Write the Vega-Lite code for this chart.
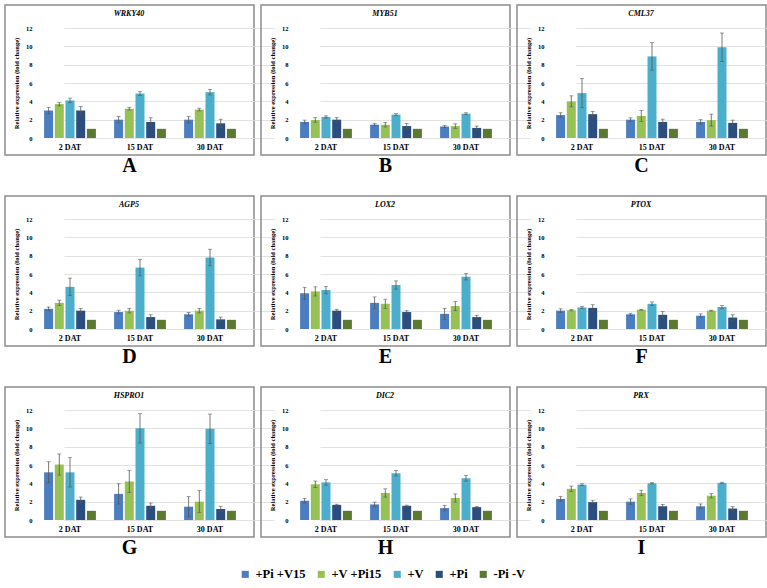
{
"$schema": "https://vega.github.io/schema/vega-lite/v6.json",
"padding": {"left": 4, "top": 4, "right": 2, "bottom": 2},
"background": "white",
"data": {"values": [
{"p":"A","g":"WRKY40","d":"2 DAT","t":"+Pi +V15","v":3.0,"lo":2.65,"hi":3.35},
{"p":"A","g":"WRKY40","d":"2 DAT","t":"+V +Pi15","v":3.7,"lo":3.5,"hi":3.9},
{"p":"A","g":"WRKY40","d":"2 DAT","t":"+V","v":4.1,"lo":3.85,"hi":4.35},
{"p":"A","g":"WRKY40","d":"2 DAT","t":"+Pi","v":3.0,"lo":2.55,"hi":3.45},
{"p":"A","g":"WRKY40","d":"2 DAT","t":"-Pi -V","v":1.0},
{"p":"A","g":"WRKY40","d":"15 DAT","t":"+Pi +V15","v":2.0,"lo":1.65,"hi":2.35},
{"p":"A","g":"WRKY40","d":"15 DAT","t":"+V +Pi15","v":3.2,"lo":3.05,"hi":3.35},
{"p":"A","g":"WRKY40","d":"15 DAT","t":"+V","v":4.85,"lo":4.65,"hi":5.05},
{"p":"A","g":"WRKY40","d":"15 DAT","t":"+Pi","v":1.75,"lo":1.3,"hi":2.2},
{"p":"A","g":"WRKY40","d":"15 DAT","t":"-Pi -V","v":1.0},
{"p":"A","g":"WRKY40","d":"30 DAT","t":"+Pi +V15","v":2.0,"lo":1.65,"hi":2.35},
{"p":"A","g":"WRKY40","d":"30 DAT","t":"+V +Pi15","v":3.1,"lo":2.95,"hi":3.25},
{"p":"A","g":"WRKY40","d":"30 DAT","t":"+V","v":5.0,"lo":4.7,"hi":5.3},
{"p":"A","g":"WRKY40","d":"30 DAT","t":"+Pi","v":1.6,"lo":1.15,"hi":2.05},
{"p":"A","g":"WRKY40","d":"30 DAT","t":"-Pi -V","v":1.0},
{"p":"B","g":"MYB51","d":"2 DAT","t":"+Pi +V15","v":1.75,"lo":1.55,"hi":1.95},
{"p":"B","g":"MYB51","d":"2 DAT","t":"+V +Pi15","v":1.97,"lo":1.72,"hi":2.22},
{"p":"B","g":"MYB51","d":"2 DAT","t":"+V","v":2.3,"lo":2.18,"hi":2.42},
{"p":"B","g":"MYB51","d":"2 DAT","t":"+Pi","v":2.0,"lo":1.75,"hi":2.25},
{"p":"B","g":"MYB51","d":"2 DAT","t":"-Pi -V","v":1.0},
{"p":"B","g":"MYB51","d":"15 DAT","t":"+Pi +V15","v":1.45,"lo":1.33,"hi":1.57},
{"p":"B","g":"MYB51","d":"15 DAT","t":"+V +Pi15","v":1.45,"lo":1.2,"hi":1.7},
{"p":"B","g":"MYB51","d":"15 DAT","t":"+V","v":2.55,"lo":2.43,"hi":2.67},
{"p":"B","g":"MYB51","d":"15 DAT","t":"+Pi","v":1.3,"lo":1.0,"hi":1.6},
{"p":"B","g":"MYB51","d":"15 DAT","t":"-Pi -V","v":1.0},
{"p":"B","g":"MYB51","d":"30 DAT","t":"+Pi +V15","v":1.25,"lo":1.13,"hi":1.37},
{"p":"B","g":"MYB51","d":"30 DAT","t":"+V +Pi15","v":1.3,"lo":1.05,"hi":1.55},
{"p":"B","g":"MYB51","d":"30 DAT","t":"+V","v":2.65,"lo":2.55,"hi":2.75},
{"p":"B","g":"MYB51","d":"30 DAT","t":"+Pi","v":1.1,"lo":0.9,"hi":1.3},
{"p":"B","g":"MYB51","d":"30 DAT","t":"-Pi -V","v":1.0},
{"p":"C","g":"CML37","d":"2 DAT","t":"+Pi +V15","v":2.5,"lo":2.25,"hi":2.75},
{"p":"C","g":"CML37","d":"2 DAT","t":"+V +Pi15","v":4.0,"lo":3.4,"hi":4.6},
{"p":"C","g":"CML37","d":"2 DAT","t":"+V","v":4.9,"lo":3.3,"hi":6.5},
{"p":"C","g":"CML37","d":"2 DAT","t":"+Pi","v":2.6,"lo":2.3,"hi":2.9},
{"p":"C","g":"CML37","d":"2 DAT","t":"-Pi -V","v":1.0},
{"p":"C","g":"CML37","d":"15 DAT","t":"+Pi +V15","v":2.0,"lo":1.8,"hi":2.2},
{"p":"C","g":"CML37","d":"15 DAT","t":"+V +Pi15","v":2.4,"lo":1.8,"hi":3.0},
{"p":"C","g":"CML37","d":"15 DAT","t":"+V","v":8.9,"lo":7.4,"hi":10.4},
{"p":"C","g":"CML37","d":"15 DAT","t":"+Pi","v":1.75,"lo":1.45,"hi":2.05},
{"p":"C","g":"CML37","d":"15 DAT","t":"-Pi -V","v":1.0},
{"p":"C","g":"CML37","d":"30 DAT","t":"+Pi +V15","v":1.75,"lo":1.5,"hi":2.0},
{"p":"C","g":"CML37","d":"30 DAT","t":"+V +Pi15","v":1.95,"lo":1.3,"hi":2.6},
{"p":"C","g":"CML37","d":"30 DAT","t":"+V","v":9.9,"lo":8.35,"hi":11.45},
{"p":"C","g":"CML37","d":"30 DAT","t":"+Pi","v":1.65,"lo":1.35,"hi":1.95},
{"p":"C","g":"CML37","d":"30 DAT","t":"-Pi -V","v":1.0},
{"p":"D","g":"AGP5","d":"2 DAT","t":"+Pi +V15","v":2.2,"lo":2.0,"hi":2.4},
{"p":"D","g":"AGP5","d":"2 DAT","t":"+V +Pi15","v":2.85,"lo":2.55,"hi":3.15},
{"p":"D","g":"AGP5","d":"2 DAT","t":"+V","v":4.6,"lo":3.65,"hi":5.55},
{"p":"D","g":"AGP5","d":"2 DAT","t":"+Pi","v":2.0,"lo":1.75,"hi":2.25},
{"p":"D","g":"AGP5","d":"2 DAT","t":"-Pi -V","v":1.0},
{"p":"D","g":"AGP5","d":"15 DAT","t":"+Pi +V15","v":1.85,"lo":1.65,"hi":2.05},
{"p":"D","g":"AGP5","d":"15 DAT","t":"+V +Pi15","v":2.0,"lo":1.75,"hi":2.25},
{"p":"D","g":"AGP5","d":"15 DAT","t":"+V","v":6.7,"lo":5.8,"hi":7.6},
{"p":"D","g":"AGP5","d":"15 DAT","t":"+Pi","v":1.3,"lo":1.05,"hi":1.55},
{"p":"D","g":"AGP5","d":"15 DAT","t":"-Pi -V","v":1.0},
{"p":"D","g":"AGP5","d":"30 DAT","t":"+Pi +V15","v":1.6,"lo":1.4,"hi":1.8},
{"p":"D","g":"AGP5","d":"30 DAT","t":"+V +Pi15","v":2.0,"lo":1.75,"hi":2.25},
{"p":"D","g":"AGP5","d":"30 DAT","t":"+V","v":7.8,"lo":6.9,"hi":8.7},
{"p":"D","g":"AGP5","d":"30 DAT","t":"+Pi","v":1.05,"lo":0.8,"hi":1.3},
{"p":"D","g":"AGP5","d":"30 DAT","t":"-Pi -V","v":1.0},
{"p":"E","g":"LOX2","d":"2 DAT","t":"+Pi +V15","v":3.9,"lo":3.25,"hi":4.55},
{"p":"E","g":"LOX2","d":"2 DAT","t":"+V +Pi15","v":4.1,"lo":3.6,"hi":4.6},
{"p":"E","g":"LOX2","d":"2 DAT","t":"+V","v":4.25,"lo":3.85,"hi":4.65},
{"p":"E","g":"LOX2","d":"2 DAT","t":"+Pi","v":2.0,"lo":1.85,"hi":2.15},
{"p":"E","g":"LOX2","d":"2 DAT","t":"-Pi -V","v":1.0},
{"p":"E","g":"LOX2","d":"15 DAT","t":"+Pi +V15","v":2.85,"lo":2.2,"hi":3.5},
{"p":"E","g":"LOX2","d":"15 DAT","t":"+V +Pi15","v":2.75,"lo":2.25,"hi":3.25},
{"p":"E","g":"LOX2","d":"15 DAT","t":"+V","v":4.8,"lo":4.35,"hi":5.25},
{"p":"E","g":"LOX2","d":"15 DAT","t":"+Pi","v":1.85,"lo":1.7,"hi":2.0},
{"p":"E","g":"LOX2","d":"15 DAT","t":"-Pi -V","v":1.0},
{"p":"E","g":"LOX2","d":"30 DAT","t":"+Pi +V15","v":1.65,"lo":1.05,"hi":2.25},
{"p":"E","g":"LOX2","d":"30 DAT","t":"+V +Pi15","v":2.5,"lo":2.0,"hi":3.0},
{"p":"E","g":"LOX2","d":"30 DAT","t":"+V","v":5.7,"lo":5.35,"hi":6.05},
{"p":"E","g":"LOX2","d":"30 DAT","t":"+Pi","v":1.3,"lo":1.1,"hi":1.5},
{"p":"E","g":"LOX2","d":"30 DAT","t":"-Pi -V","v":1.0},
{"p":"F","g":"PTOX","d":"2 DAT","t":"+Pi +V15","v":2.0,"lo":1.8,"hi":2.2},
{"p":"F","g":"PTOX","d":"2 DAT","t":"+V +Pi15","v":2.05,"lo":1.98,"hi":2.12},
{"p":"F","g":"PTOX","d":"2 DAT","t":"+V","v":2.35,"lo":2.25,"hi":2.45},
{"p":"F","g":"PTOX","d":"2 DAT","t":"+Pi","v":2.3,"lo":1.95,"hi":2.65},
{"p":"F","g":"PTOX","d":"2 DAT","t":"-Pi -V","v":1.0},
{"p":"F","g":"PTOX","d":"15 DAT","t":"+Pi +V15","v":1.6,"lo":1.48,"hi":1.72},
{"p":"F","g":"PTOX","d":"15 DAT","t":"+V +Pi15","v":2.1,"lo":2.05,"hi":2.15},
{"p":"F","g":"PTOX","d":"15 DAT","t":"+V","v":2.75,"lo":2.55,"hi":2.95},
{"p":"F","g":"PTOX","d":"15 DAT","t":"+Pi","v":1.55,"lo":1.2,"hi":1.9},
{"p":"F","g":"PTOX","d":"15 DAT","t":"-Pi -V","v":1.0},
{"p":"F","g":"PTOX","d":"30 DAT","t":"+Pi +V15","v":1.45,"lo":1.25,"hi":1.65},
{"p":"F","g":"PTOX","d":"30 DAT","t":"+V +Pi15","v":2.0,"lo":1.95,"hi":2.05},
{"p":"F","g":"PTOX","d":"30 DAT","t":"+V","v":2.4,"lo":2.25,"hi":2.55},
{"p":"F","g":"PTOX","d":"30 DAT","t":"+Pi","v":1.25,"lo":0.95,"hi":1.55},
{"p":"F","g":"PTOX","d":"30 DAT","t":"-Pi -V","v":1.0},
{"p":"G","g":"HSPRO1","d":"2 DAT","t":"+Pi +V15","v":5.2,"lo":4.05,"hi":6.35},
{"p":"G","g":"HSPRO1","d":"2 DAT","t":"+V +Pi15","v":6.05,"lo":4.9,"hi":7.2},
{"p":"G","g":"HSPRO1","d":"2 DAT","t":"+V","v":5.2,"lo":3.6,"hi":6.8},
{"p":"G","g":"HSPRO1","d":"2 DAT","t":"+Pi","v":2.2,"lo":1.9,"hi":2.5},
{"p":"G","g":"HSPRO1","d":"2 DAT","t":"-Pi -V","v":1.0},
{"p":"G","g":"HSPRO1","d":"15 DAT","t":"+Pi +V15","v":2.85,"lo":1.75,"hi":3.95},
{"p":"G","g":"HSPRO1","d":"15 DAT","t":"+V +Pi15","v":4.2,"lo":3.0,"hi":5.4},
{"p":"G","g":"HSPRO1","d":"15 DAT","t":"+V","v":10.0,"lo":8.4,"hi":11.6},
{"p":"G","g":"HSPRO1","d":"15 DAT","t":"+Pi","v":1.55,"lo":1.25,"hi":1.85},
{"p":"G","g":"HSPRO1","d":"15 DAT","t":"-Pi -V","v":1.0},
{"p":"G","g":"HSPRO1","d":"30 DAT","t":"+Pi +V15","v":1.45,"lo":0.35,"hi":2.55},
{"p":"G","g":"HSPRO1","d":"30 DAT","t":"+V +Pi15","v":2.0,"lo":0.8,"hi":3.2},
{"p":"G","g":"HSPRO1","d":"30 DAT","t":"+V","v":9.95,"lo":8.35,"hi":11.55},
{"p":"G","g":"HSPRO1","d":"30 DAT","t":"+Pi","v":1.2,"lo":0.9,"hi":1.5},
{"p":"G","g":"HSPRO1","d":"30 DAT","t":"-Pi -V","v":1.0},
{"p":"H","g":"DIC2","d":"2 DAT","t":"+Pi +V15","v":2.1,"lo":1.85,"hi":2.35},
{"p":"H","g":"DIC2","d":"2 DAT","t":"+V +Pi15","v":3.9,"lo":3.55,"hi":4.25},
{"p":"H","g":"DIC2","d":"2 DAT","t":"+V","v":4.1,"lo":3.8,"hi":4.4},
{"p":"H","g":"DIC2","d":"2 DAT","t":"+Pi","v":1.65,"lo":1.58,"hi":1.72},
{"p":"H","g":"DIC2","d":"2 DAT","t":"-Pi -V","v":1.0},
{"p":"H","g":"DIC2","d":"15 DAT","t":"+Pi +V15","v":1.7,"lo":1.45,"hi":1.95},
{"p":"H","g":"DIC2","d":"15 DAT","t":"+V +Pi15","v":2.95,"lo":2.5,"hi":3.4},
{"p":"H","g":"DIC2","d":"15 DAT","t":"+V","v":5.1,"lo":4.8,"hi":5.4},
{"p":"H","g":"DIC2","d":"15 DAT","t":"+Pi","v":1.55,"lo":1.48,"hi":1.62},
{"p":"H","g":"DIC2","d":"15 DAT","t":"-Pi -V","v":1.0},
{"p":"H","g":"DIC2","d":"30 DAT","t":"+Pi +V15","v":1.3,"lo":1.0,"hi":1.6},
{"p":"H","g":"DIC2","d":"30 DAT","t":"+V +Pi15","v":2.4,"lo":1.95,"hi":2.85},
{"p":"H","g":"DIC2","d":"30 DAT","t":"+V","v":4.55,"lo":4.25,"hi":4.85},
{"p":"H","g":"DIC2","d":"30 DAT","t":"+Pi","v":1.4,"lo":1.33,"hi":1.47},
{"p":"H","g":"DIC2","d":"30 DAT","t":"-Pi -V","v":1.0},
{"p":"I","g":"PRX","d":"2 DAT","t":"+Pi +V15","v":2.3,"lo":2.05,"hi":2.55},
{"p":"I","g":"PRX","d":"2 DAT","t":"+V +Pi15","v":3.4,"lo":3.1,"hi":3.7},
{"p":"I","g":"PRX","d":"2 DAT","t":"+V","v":3.85,"lo":3.75,"hi":3.95},
{"p":"I","g":"PRX","d":"2 DAT","t":"+Pi","v":1.95,"lo":1.75,"hi":2.15},
{"p":"I","g":"PRX","d":"2 DAT","t":"-Pi -V","v":1.0},
{"p":"I","g":"PRX","d":"15 DAT","t":"+Pi +V15","v":2.0,"lo":1.7,"hi":2.3},
{"p":"I","g":"PRX","d":"15 DAT","t":"+V +Pi15","v":2.95,"lo":2.65,"hi":3.25},
{"p":"I","g":"PRX","d":"15 DAT","t":"+V","v":4.0,"lo":3.93,"hi":4.07},
{"p":"I","g":"PRX","d":"15 DAT","t":"+Pi","v":1.5,"lo":1.3,"hi":1.7},
{"p":"I","g":"PRX","d":"15 DAT","t":"-Pi -V","v":1.0},
{"p":"I","g":"PRX","d":"30 DAT","t":"+Pi +V15","v":1.5,"lo":1.25,"hi":1.75},
{"p":"I","g":"PRX","d":"30 DAT","t":"+V +Pi15","v":2.65,"lo":2.4,"hi":2.9},
{"p":"I","g":"PRX","d":"30 DAT","t":"+V","v":4.05,"lo":3.98,"hi":4.12},
{"p":"I","g":"PRX","d":"30 DAT","t":"+Pi","v":1.25,"lo":1.05,"hi":1.45},
{"p":"I","g":"PRX","d":"30 DAT","t":"-Pi -V","v":1.0}
]},
"columns": 3,
"spacing": {"row": 18, "column": 5},
"facet": {"field": "p", "type": "nominal", "title": null,
  "header": {"labelOrient": "bottom", "labelFont": "Liberation Serif", "labelFontSize": 20, "labelFontWeight": "bold", "labelColor": "black", "labelPadding": 1}},
"spec": {
  "width": 249, "height": 150,
  "layer": [
    {"mark": {"type": "bar"},
     "encoding": {
       "x": {"field": "d", "type": "nominal", "sort": ["2 DAT", "15 DAT", "30 DAT"],
             "scale": {"range": [30, 240], "paddingInner": 0.26, "paddingOuter": 0.13}},
       "xOffset": {"field": "t", "type": "nominal", "sort": ["+Pi +V15", "+V +Pi15", "+V", "+Pi", "-Pi -V"], "scale": {"paddingInner": 0.16, "paddingOuter": 0}},
       "y": {"field": "v", "type": "quantitative", "scale": {"domain": [0, 12], "range": [133, 23], "nice": false},
             "axis": {"values": [0, 2, 4, 6, 8, 10, 12], "tickCount": 7, "labelOverlap": false, "title": "Relative expression (fold change)"}},
       "color": {"field": "t", "type": "nominal", "sort": ["+Pi +V15", "+V +Pi15", "+V", "+Pi", "-Pi -V"],
                 "scale": {"domain": ["+Pi +V15", "+V +Pi15", "+V", "+Pi", "-Pi -V"], "range": ["#4a7ec0", "#98c155", "#4bafcc", "#2b4e7e", "#5b7a2f"]},
                 "legend": {"orient": "none", "legendX": 234, "legendY": 563, "direction": "horizontal", "title": null, "labelFont": "Liberation Serif", "labelFontSize": 12.5, "labelFontWeight": "bold", "labelColor": "black", "symbolType": "square", "symbolSize": 50, "symbolStrokeWidth": 0, "columnPadding": 9, "labelOffset": 4}}
     }},
    {"mark": {"type": "rule", "color": "#555555", "strokeWidth": 0.8},
     "encoding": {
       "x": {"field": "d", "type": "nominal", "sort": ["2 DAT", "15 DAT", "30 DAT"]},
       "xOffset": {"field": "t", "type": "nominal", "sort": ["+Pi +V15", "+V +Pi15", "+V", "+Pi", "-Pi -V"]},
       "y": {"field": "lo", "type": "quantitative", "axis": {"values": [0, 2, 4, 6, 8, 10, 12], "tickCount": 7, "labelOverlap": false, "title": "Relative expression (fold change)"}},
       "y2": {"field": "hi"}
     }},
    {"mark": {"type": "tick", "color": "#555555", "size": 4, "thickness": 0.8},
     "encoding": {
       "x": {"field": "d", "type": "nominal", "sort": ["2 DAT", "15 DAT", "30 DAT"]},
       "xOffset": {"field": "t", "type": "nominal", "sort": ["+Pi +V15", "+V +Pi15", "+V", "+Pi", "-Pi -V"]},
       "y": {"field": "lo", "type": "quantitative", "axis": {"values": [0, 2, 4, 6, 8, 10, 12], "tickCount": 7, "labelOverlap": false, "title": "Relative expression (fold change)"}}
     }},
    {"mark": {"type": "tick", "color": "#555555", "size": 4, "thickness": 0.8},
     "encoding": {
       "x": {"field": "d", "type": "nominal", "sort": ["2 DAT", "15 DAT", "30 DAT"]},
       "xOffset": {"field": "t", "type": "nominal", "sort": ["+Pi +V15", "+V +Pi15", "+V", "+Pi", "-Pi -V"]},
       "y": {"field": "hi", "type": "quantitative", "axis": {"values": [0, 2, 4, 6, 8, 10, 12], "tickCount": 7, "labelOverlap": false, "title": "Relative expression (fold change)"}}
     }},
    {"transform": [{"aggregate": [{"op": "count", "as": "n"}], "groupby": ["p", "g"]}],
     "mark": {"type": "text", "font": "Liberation Serif", "fontStyle": "italic", "fontWeight": "bold", "fontSize": 8, "color": "black", "dx": -11, "baseline": "middle"},
     "encoding": {
       "x": {"datum": "15 DAT"},
       "y": {"datum": 13.5, "axis": {"values": [0, 2, 4, 6, 8, 10, 12], "tickCount": 7, "labelOverlap": false, "title": "Relative expression (fold change)"}},
       "text": {"field": "g"}
     }}
  ]
},
"resolve": {"axis": {"x": "independent", "y": "independent"}},
"config": {
  "view": {"stroke": "#8c8c8c", "strokeWidth": 1.5},
  "font": "Liberation Serif",
  "axisX": {"title": null, "labelAngle": 0, "ticks": false, "domain": false, "grid": false, "offset": -12, "labelPadding": 0, "labelFontSize": 8, "labelFontWeight": "bold", "labelColor": "black", "labelFont": "Liberation Serif"},
  "axisY": {"offset": -29, "ticks": false, "domain": false, "labelPadding": 2, "labelFontSize": 6.5, "labelFontWeight": "bold", "labelColor": "black", "labelFont": "Liberation Serif", "labelOverlap": false, "titleFont": "Liberation Serif", "titleFontSize": 6.5, "titleFontWeight": "bold", "titleColor": "black", "titlePadding": 6, "gridColor": "#dadada", "gridWidth": 0.8}
}
}
